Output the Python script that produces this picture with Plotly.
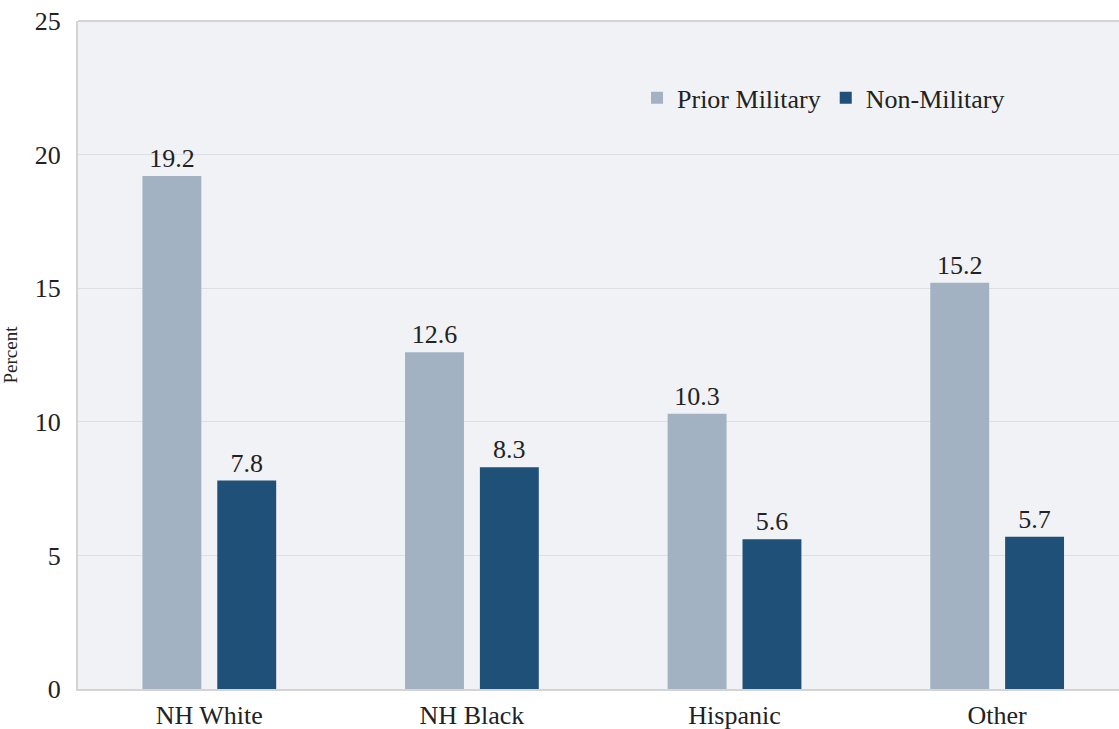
import plotly.graph_objects as go

categories = ["NH White", "NH Black", "Hispanic", "Other"]
prior_military = [19.2, 12.6, 10.3, 15.2]
non_military = [7.8, 8.3, 5.6, 5.7]
y_ticks = [0, 5, 10, 15, 20, 25]

FONT = "Liberation Serif"
TEXT_COLOR = "#222222"
SIZE = 26

fig = go.Figure()
fig.add_trace(go.Bar(
    name="Prior Military", x=categories, y=prior_military,
    marker=dict(color="#a2b2c2", line=dict(width=0)),
    text=[f"{v:.1f}" for v in prior_military], textposition="outside",
    textfont=dict(family=FONT, size=SIZE, color=TEXT_COLOR),
    cliponaxis=False,
))
fig.add_trace(go.Bar(
    name="Non-Military", x=categories, y=non_military,
    marker=dict(color="#1f5078", line=dict(width=0)),
    text=[f"{v:.1f}" for v in non_military], textposition="outside",
    textfont=dict(family=FONT, size=SIZE, color=TEXT_COLOR),
    cliponaxis=False,
))

fig.update_layout(
    width=1119, height=729,
    margin=dict(l=78, r=0, t=21, b=40),
    paper_bgcolor="white",
    plot_bgcolor="#f0f2f5",
    barmode="group",
    bargap=0.43,
    bargroupgap=0.213,
    font=dict(family=FONT, size=SIZE, color=TEXT_COLOR),
    legend=dict(
        orientation="h",
        x=0.537, y=0.885, xanchor="left", yanchor="middle",
        bgcolor="rgba(0,0,0,0)",
        font=dict(family=FONT, size=SIZE, color=TEXT_COLOR),
        itemwidth=30,
    ),
    showlegend=True,
)

fig.update_xaxes(
    range=[-0.5, 3.464],
    showline=True, linecolor="#d4d4d4", linewidth=2,
    showgrid=False, ticks="", ticklabelstandoff=2,
    tickfont=dict(family=FONT, size=SIZE, color=TEXT_COLOR),
)
fig.update_yaxes(
    range=[0, 25],
    tickvals=y_ticks,
    showline=True, linecolor="#d4d4d4", linewidth=2,
    showgrid=True, gridcolor="#dedfe2", gridwidth=1,
    zeroline=False, ticks="", ticklabelstandoff=10,
    tickfont=dict(family=FONT, size=SIZE, color=TEXT_COLOR),
    title=dict(text="Percent", font=dict(family=FONT, size=19, color=TEXT_COLOR), standoff=14),
)

# top border of the plotting area
fig.add_shape(type="line", xref="paper", yref="paper", x0=0, x1=1, y0=1, y1=1,
              line=dict(color="#d4d4d4", width=2))

fig.write_html("out.html")
